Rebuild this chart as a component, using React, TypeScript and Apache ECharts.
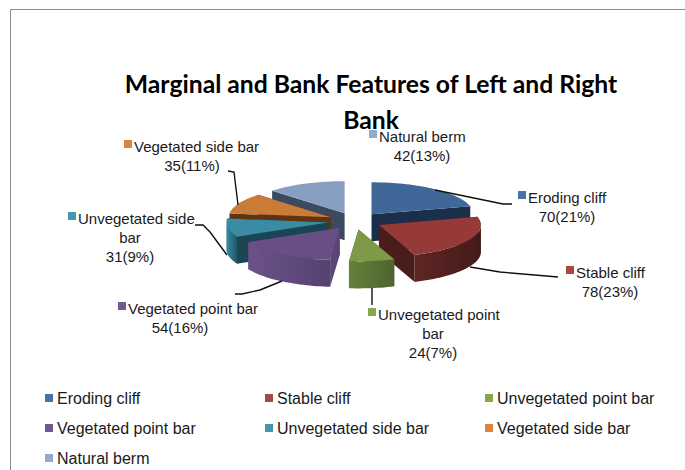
import React, { useEffect, useRef } from "react";
import * as echarts from "echarts";

const categories = ["Eroding cliff", "Stable cliff", "Unvegetated point bar", "Vegetated point bar", "Unvegetated side bar", "Vegetated side bar", "Natural berm"];
const values = [70, 78, 24, 54, 31, 35, 42];
const percents = [21, 23, 7, 16, 9, 11, 13];
const titleText = "Marginal and Bank Features of Left and Right\nBank";

const topColors = ["#3F6797", "#953A38", "#7C9A48", "#674E85", "#3A8BA4", "#C97B37", "#899FC2"];
const legendColors = ["#4573A7", "#AA4643", "#89A54E", "#71588F", "#4198AF", "#DB843D", "#93A9CF"];
const radialColors = ["#1B2F4A", "#4A1D1B", "#4C612F", "#5B4574", "#1B4552", "#5E3412", "#3B4A60"];
const rimLight = ["#2C4A70", "#5E2624", "#64803B", "#6B5289", "#3A8CA5", "#9A5C26", "#5F7391"];
const rimDark = ["#1B2F4A", "#431A18", "#4E6430", "#564170", "#1F5566", "#6B3E16", "#3B4A60"];

// drawing order, back to front
const paintOrder = [6, 0, 5, 4, 1, 3, 2];

const CX = 355, CY = 221, RX = 102, RY = 32, DEPTH = 27, EXPLODE = 27;
const total = values.reduce((a, b) => a + b, 0);
const rad = (d: number) => (d * Math.PI) / 180;

function sliceAngles(i: number): [number, number] {
  const before = values.slice(0, i).reduce((a, b) => a + b, 0);
  return [(before / total) * 360, ((before + values[i]) / total) * 360];
}

function renderSlice(i: number) {
  return () => {
    const [a0, a1] = sliceAngles(i);
    const mid = rad((a0 + a1) / 2);
    const ox = CX + EXPLODE * Math.sin(mid);
    const oy = CY - (EXPLODE * RY * Math.cos(mid)) / RX;
    const rimAt = (d: number, drop = 0): number[] => [ox + RX * Math.sin(rad(d)), oy - RY * Math.cos(rad(d)) + drop];
    const arc = (from: number, to: number, drop = 0) => {
      const n = Math.max(2, Math.ceil((to - from) / 2));
      const pts: number[][] = [];
      for (let k = 0; k <= n; k++) pts.push(rimAt(from + ((to - from) * k) / n, drop));
      return pts;
    };
    const radial = (d: number) => ({
      type: "polygon",
      silent: true,
      shape: { points: [[ox, oy], rimAt(d), rimAt(d, DEPTH), [ox, oy + DEPTH]] },
      style: { fill: radialColors[i] },
    });
    const children: any[] = [radial(a0), radial(a1)];
    const fromFront = Math.max(a0, 90);
    const toFront = Math.min(a1, 270);
    if (toFront > fromFront) {
      const upper = arc(fromFront, toFront);
      const lower = arc(fromFront, toFront, DEPTH).reverse();
      children.push({
        type: "polygon",
        silent: true,
        shape: { points: upper.concat(lower) },
        style: {
          fill: new echarts.graphic.LinearGradient(0, 0, 1, 0, [
            { offset: 0, color: rimLight[i] },
            { offset: 1, color: rimDark[i] },
          ]),
        },
      });
    }
    children.push({
      type: "polygon",
      silent: true,
      shape: { points: [[ox, oy], ...arc(a0, a1)] },
      style: { fill: topColors[i] },
    });
    return { type: "group", children };
  };
}

// label placement: marker x, first line y, line centre x, wrapped lines
const labelLayout = [
  { mx: 518, y: 197, cx: 567, lines: ["Eroding cliff"] },
  { mx: 566, y: 272, cx: 610, lines: ["Stable cliff"] },
  { mx: 368, y: 314, cx: 433, lines: ["Unvegetated point", "bar"] },
  { mx: 118, y: 308, cx: 180, lines: ["Vegetated point bar"] },
  { mx: 68, y: 218, cx: 130, lines: ["Unvegetated side", "bar"] },
  { mx: 124, y: 146, cx: 192, lines: ["Vegetated side bar"] },
  { mx: 369, y: 136, cx: 422, lines: ["Natural berm"] },
];
const leaders = [
  [[435, 190], [503, 204], [512, 204]],
  [[470, 267], [500, 272], [558, 277]],
  [[372, 288], [372, 305]],
  [[282, 281], [260, 290], [242, 294], [235, 294]],
  [[227, 255], [210, 232], [203, 225], [195, 225]],
  [[238, 205], [234, 172], [228, 171]],
];
const FONT = "'Liberation Sans', Arial, sans-serif";
const LINE = 19;

function labelGraphics() {
  const out: any[] = [];
  out.push({ type: "polyline", silent: true, shape: { points: [[10.5, 470], [10.5, 9.5], [685, 9.5]] }, style: { stroke: "#8C8C8C", lineWidth: 1, fill: "none" } });
  leaders.forEach((pts) => out.push({ type: "polyline", silent: true, z: 20, shape: { points: pts }, style: { stroke: "#111", lineWidth: 1.4, fill: "none" } }));
  labelLayout.forEach((l, i) => {
    const rows = [...l.lines, `${values[i]}(${percents[i]}%)`];
    out.push({ type: "rect", silent: true, z: 21, shape: { x: l.mx, y: l.y - 6, width: 8, height: 8 }, style: { fill: legendColors[i] } });
    rows.forEach((r, k) => {
      const first = k === 0;
      out.push({
        type: "text",
        silent: true,
        z: 21,
        x: first ? l.mx + 10 : l.cx,
        y: l.y + k * LINE,
        style: { text: r, font: `15px ${FONT}`, fill: "#1a1a1a", textAlign: first ? "left" : "center", textVerticalAlign: "middle" },
      });
    });
  });
  return out;
}

const legendColumns = [
  { left: 45, items: [0, 3, 6] },
  { left: 265, items: [1, 4] },
  { left: 485, items: [2, 5] },
];

export default function App() {
  const ref = useRef<HTMLDivElement>(null);
  useEffect(() => {
    const chart = echarts.init(ref.current!, undefined, { renderer: "svg" });
    chart.setOption({
      animation: false,
      backgroundColor: "#fff",
      color: legendColors,
      title: {
        text: titleText,
        left: 366,
        top: 60,
        textAlign: "center",
        textStyle: { fontFamily: "Lato", fontWeight: "bold", fontSize: 24.7, lineHeight: 36, color: "#000" },
      },
      legend: legendColumns.map((c) => ({
        orient: "vertical",
        left: c.left,
        top: 390,
        height: 78,
        padding: 0,
        itemWidth: 8,
        itemHeight: 8,
        itemGap: 14,
        icon: "rect",
        selectedMode: false,
        data: c.items.map((i) => categories[i]),
        textStyle: { fontFamily: FONT, fontSize: 16, color: "#1a1a1a", padding: [0, 0, 0, -1] },
      })),
      series: categories.map((name, i) => ({
        type: "custom",
        name,
        coordinateSystem: "none",
        z: 2 + paintOrder.indexOf(i),
        silent: true,
        data: [[values[i]]],
        renderItem: renderSlice(i),
      })),
      graphic: { elements: labelGraphics() },
    });
    return () => chart.dispose();
  }, []);
  return <div ref={ref} style={{ position: "absolute", left: 0, top: 0, width: 685, height: 470 }} />;
}
